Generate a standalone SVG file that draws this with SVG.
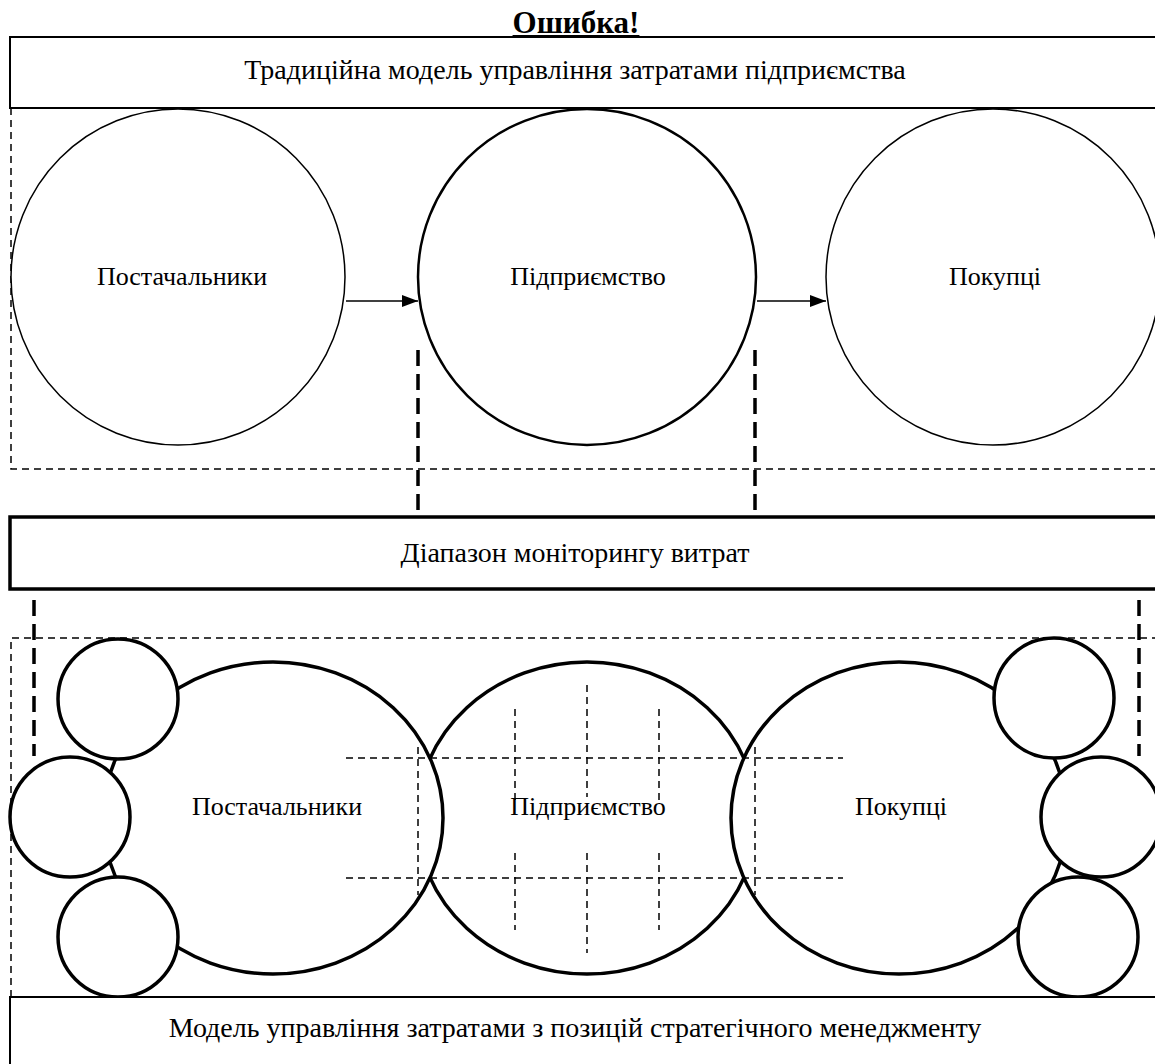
<svg xmlns="http://www.w3.org/2000/svg" width="1155" height="1064" viewBox="0 0 1155 1064">
<defs>
<style>
text{font-family:"Liberation Serif","Times New Roman",serif;font-size:26px;fill:#000;text-anchor:middle}
.hdr{font-size:28px}
.box{fill:#fff;stroke:#000;stroke-width:2}
.thin{fill:#fff;stroke:#000;stroke-width:1.5}
.thick{fill:#fff;stroke:#000;stroke-width:3.5}
.dash{fill:none;stroke:#000;stroke-width:1.5;stroke-dasharray:7 5}
.bigdash{fill:none;stroke:#000;stroke-width:3.5;stroke-dasharray:16 8}
.arrow{fill:none;stroke:#000;stroke-width:1.5}
</style>
<marker id="ah" markerWidth="16" markerHeight="12" refX="16" refY="6" orient="auto" markerUnits="userSpaceOnUse">
<path d="M0,0 L16,6 L0,12 Z" fill="#000"/>
</marker>
</defs>
<rect width="1155" height="1064" fill="#fff"/>

<text id="title" x="576" y="33" style="font-weight:bold;font-size:31px;text-decoration:underline">Ошибка!</text>

<g id="traditional-region">
<path class="dash" d="M11,108 V469 H1155"/>
</g>
<g id="traditional-header">
<path class="box" d="M1160,37 H10 V108 H1160"/>
<text class="hdr" x="575" y="79">Традиційна модель управління затратами підприємства</text>
</g>

<g id="top-suppliers">
<ellipse class="thin" cx="178" cy="277" rx="167" ry="168"/>
<text x="182" y="285">Постачальники</text>
</g>
<g id="top-enterprise">
<ellipse class="thick" style="stroke-width:2.5" cx="587" cy="277" rx="169" ry="168"/>
<text x="588" y="285">Підприємство</text>
</g>
<g id="top-customers">
<ellipse class="thin" cx="993" cy="277" rx="167" ry="168"/>
<text x="995" y="285">Покупці</text>
</g>

<g id="connectors">
<line class="arrow" x1="346" y1="301" x2="418" y2="301" marker-end="url(#ah)"/>
<line class="arrow" x1="757" y1="301" x2="826" y2="301" marker-end="url(#ah)"/>
<line class="bigdash" x1="418" y1="350" x2="418" y2="516"/>
<line class="bigdash" x1="755" y1="350" x2="755" y2="516"/>
<line class="bigdash" x1="34" y1="600" x2="34" y2="756"/>
<line class="bigdash" x1="1139" y1="600" x2="1139" y2="756"/>
</g>

<g id="monitoring-range">
<path class="thick" style="stroke-width:3.5" d="M1160,517 H10 V589 H1160"/>
<text class="hdr" x="575" y="562">Діапазон моніторингу витрат</text>
</g>

<g id="strategic-region">
<path class="dash" d="M11,997 V638 H1155"/>
</g>

<g id="low-enterprise">
<ellipse class="thick" cx="587" cy="818" rx="170" ry="156"/>
</g>
<g id="low-suppliers">
<ellipse class="thick" cx="273" cy="818" rx="170" ry="156"/>
</g>
<g id="low-customers">
<ellipse class="thick" cx="899" cy="818" rx="168" ry="156"/>
</g>

<g id="small-left-1"><circle class="thick" cx="118" cy="699" r="60"/></g>
<g id="small-left-2"><circle class="thick" cx="70" cy="817" r="60"/></g>
<g id="small-left-3"><circle class="thick" cx="118" cy="937" r="60"/></g>
<g id="small-right-1"><circle class="thick" cx="1054" cy="698" r="60"/></g>
<g id="small-right-2"><circle class="thick" cx="1101" cy="817" r="60"/></g>
<g id="small-right-3"><circle class="thick" cx="1078" cy="937" r="60"/></g>

<g id="grid">
<line class="dash" x1="346" y1="758" x2="843" y2="758"/>
<line class="dash" x1="346" y1="878" x2="843" y2="878"/>
<line class="dash" x1="418" y1="747" x2="418" y2="895"/>
<line class="dash" x1="755" y1="747" x2="755" y2="895"/>
<line class="dash" x1="515" y1="709" x2="515" y2="800"/>
<line class="dash" x1="515" y1="853" x2="515" y2="930"/>
<line class="dash" x1="587" y1="685" x2="587" y2="797"/>
<line class="dash" x1="587" y1="853" x2="587" y2="953"/>
<line class="dash" x1="659" y1="709" x2="659" y2="800"/>
<line class="dash" x1="659" y1="853" x2="659" y2="930"/>
</g>

<g id="low-labels">
<text x="277" y="815">Постачальники</text>
<text x="588" y="815">Підприємство</text>
<text x="901" y="815">Покупці</text>
</g>

<g id="strategic-header">
<path class="box" d="M1160,997 H10 V1070"/>
<text class="hdr" x="575" y="1037">Модель управління затратами з позицій стратегічного менеджменту</text>
</g>
</svg>
